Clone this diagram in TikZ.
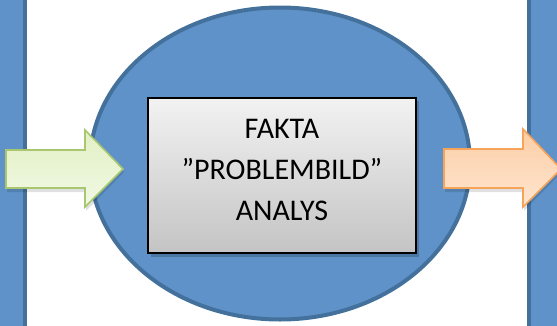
\documentclass[tikz,border=0pt]{standalone}
\usepackage{fontspec}
\setmainfont{Carlito}
\usetikzlibrary{shapes.geometric}
\definecolor{bfill}{HTML}{5E92C8}
\definecolor{bline}{HTML}{44709C}
\definecolor{gtop}{HTML}{E2F0C4}
\definecolor{gbot}{HTML}{F1F9E4}
\definecolor{gline}{HTML}{A9C76E}
\definecolor{otop}{HTML}{FBCEA6}
\definecolor{obot}{HTML}{FFE5CF}
\definecolor{oline}{HTML}{F6A45A}
\definecolor{boxtop}{HTML}{F2F2F2}
\definecolor{boxbot}{HTML}{C4C4C4}
\tikzset{
  bar/.style={fill=bfill,draw=bline,line width=4pt},
  blob/.style={ellipse,fill=bfill,draw=bline,line width=4pt,inner sep=0pt},
  factbox/.style={rectangle,draw=black,line width=2pt,top color=boxtop,bottom color=boxbot,inner sep=0pt},
  boxtext/.style={inner sep=0pt,align=center,font=\fontsize{30}{41}\selectfont},
  shade/.style={fill=black,opacity=0.18},
}
\begin{document}
\begin{tikzpicture}[x=1pt,y=-1pt]
\useasboundingbox (0,0) rectangle (557,325);
% side bars
\draw[bar] (-10,-10) rectangle (25,335);
\draw[bar] (529,-10) rectangle (575,335);
% ellipse
\node[blob,minimum width=380pt,minimum height=312pt] (oval) at (280,163.5) {};
% box shadow
\fill[shade] (151,101) rectangle (419,257);
\node[factbox,minimum width=268pt,minimum height=155pt] (box) at (282,175.5) {};
\node[boxtext] (label) at (282,170) {FAKTA\\”PROBLEMBILD”\\ANALYS};
% arrow shadows
\fill[shade,opacity=0.12] (7,153) -- (86,153) -- (86,133) -- (124,172) -- (86,211) -- (86,192) -- (7,192) -- cycle;
\fill[shade,opacity=0.12] (445,152) -- (524,152) -- (524,132) -- (562,172) -- (524,211) -- (524,192) -- (445,192) -- cycle;
% green arrow
\draw[gline,line width=1.6pt,line join=miter,top color=gtop,bottom color=gbot]
  (6,150) -- (85,150) -- (85,130) -- (123,169) -- (85,207) -- (85,188) -- (6,188) -- cycle;
% orange arrow
\draw[oline,line width=1.6pt,line join=miter,top color=otop,bottom color=obot]
  (444,149) -- (523,149) -- (523,129) -- (561,169) -- (523,207) -- (523,188) -- (444,188) -- cycle;
\end{tikzpicture}
\end{document}
